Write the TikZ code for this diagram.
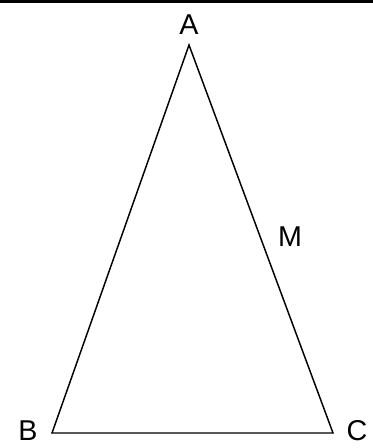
\documentclass[tikz,border=0pt]{standalone}
\usepackage{fontspec}
\setmainfont{Liberation Sans}
\begin{document}
\begin{tikzpicture}[x=0.75pt,y=-0.75pt,
  lbl/.style={inner sep=0pt,font=\fontsize{21.5}{25}\selectfont},
  side/.style={line width=1.1pt,black}]
\useasboundingbox (0,0) rectangle (373,448);
\draw[line width=2pt] (0,1.5) -- (373,1.5);
\coordinate (A) at (189,45);
\coordinate (B) at (52,433);
\coordinate (C) at (333,433);
\draw[side] (B) -- (A) -- (C) -- cycle;
\node[lbl] (la) at (189,25) {A};
\node[lbl] (lm) at (290,237) {M};
\node[lbl] (lb) at (28,431) {B};
\node[lbl] (lc) at (357,431) {C};
\end{tikzpicture}
\end{document}
